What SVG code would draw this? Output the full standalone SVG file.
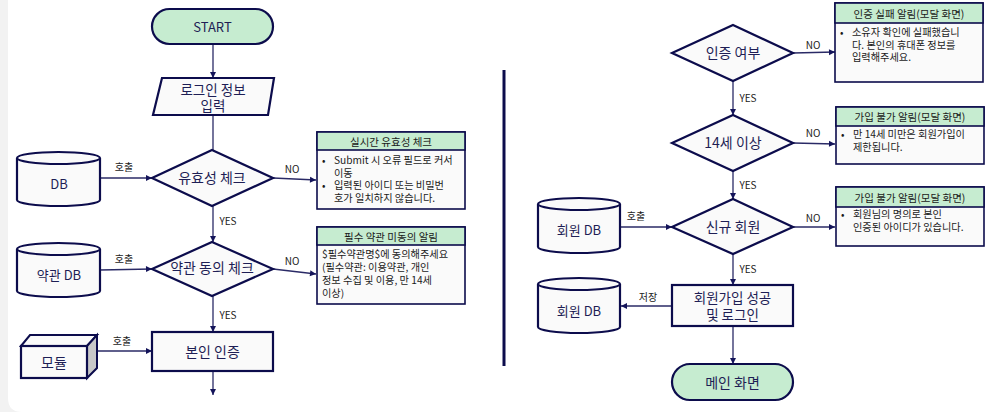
<svg xmlns="http://www.w3.org/2000/svg" width="1004" height="412" viewBox="0 0 1004 412">
<defs>
<marker id="arr" markerWidth="8" markerHeight="8" refX="7" refY="4" orient="auto" markerUnits="userSpaceOnUse">
<path d="M1,1 L7,4 L1,7 Z" fill="#14145a"/>
</marker>
<style>
.sh{stroke:#0c0c4c;stroke-width:2.2;fill:#fafafa}
.term{stroke:#0c0c4c;stroke-width:2.2;fill:#c6ecd0}
.conn{stroke:#2a2a66;stroke-width:1.3;fill:none;marker-end:url(#arr)}
.line{stroke:#2a2a66;stroke-width:1.3;fill:none}
.lbl{font-family:"Noto Sans CJK KR","Noto Sans",sans-serif;fill:#1e1e55;text-anchor:middle;dominant-baseline:central}
.big{font-size:14px}
.two{font-size:13.5px}
.mid{font-size:13px}
.cl{font-family:"Noto Sans CJK KR","Noto Sans",sans-serif;font-size:10px;fill:#222;text-anchor:middle;dominant-baseline:central}
.box{stroke:#0c0c4c;stroke-width:1.6;fill:#fafafa}
.hdr{stroke:#0c0c4c;stroke-width:1.6;fill:#c6ecd0}
.bt{font-family:"Noto Sans CJK KR","Noto Sans",sans-serif;font-size:10.2px;fill:#1a1a1a}
.ht{font-family:"Noto Sans CJK KR","Noto Sans",sans-serif;font-size:10.5px;fill:#1a1a1a;text-anchor:middle;dominant-baseline:central}
.cyl{stroke:#0c0c4c;stroke-width:2.2;fill:#fafafa}
</style>
</defs>
<rect x="0" y="0" width="1004" height="412" fill="#f2f2f2"/>
<path d="M8,0 H1004 V412 H22 Q8,412 8,398 Z" fill="#ffffff"/>

<g id="connectors">
<line class="conn" x1="213" y1="44" x2="213" y2="78"/>
<line class="line" x1="213" y1="115" x2="213" y2="150"/>
<line class="conn" x1="100" y1="178" x2="152" y2="178"/>
<line class="conn" x1="273" y1="178" x2="316" y2="180"/>
<line class="conn" x1="213" y1="206" x2="213" y2="242"/>
<line class="conn" x1="100" y1="270" x2="152" y2="269"/>
<line class="conn" x1="273" y1="269" x2="316" y2="274"/>
<line class="conn" x1="213" y1="296" x2="213" y2="332"/>
<line class="conn" x1="97" y1="351" x2="152" y2="351"/>
<line class="conn" x1="213" y1="371" x2="213" y2="395"/>
<line class="conn" x1="793" y1="53" x2="835" y2="52"/>
<line class="conn" x1="733" y1="81" x2="733" y2="115"/>
<line class="conn" x1="793" y1="143" x2="835" y2="144"/>
<line class="conn" x1="733" y1="171" x2="733" y2="199"/>
<line class="conn" x1="620" y1="227" x2="672" y2="227"/>
<line class="conn" x1="793" y1="227" x2="835" y2="227"/>
<line class="conn" x1="733" y1="254" x2="733" y2="285"/>
<line class="conn" x1="672" y1="306" x2="621" y2="306"/>
<line class="conn" x1="733" y1="326" x2="733" y2="364"/>
<text class="cl" x="124" y="166">호출</text>
<text class="cl" x="292" y="168">NO</text>
<text class="cl" x="228" y="220">YES</text>
<text class="cl" x="124" y="258">호출</text>
<text class="cl" x="292" y="260">NO</text>
<text class="cl" x="228" y="314">YES</text>
<text class="cl" x="122" y="340">호출</text>
<text class="cl" x="813" y="44">NO</text>
<text class="cl" x="748" y="97">YES</text>
<text class="cl" x="813" y="132">NO</text>
<text class="cl" x="748" y="184">YES</text>
<text class="cl" x="636" y="215">호출</text>
<text class="cl" x="813" y="217">NO</text>
<text class="cl" x="748" y="268">YES</text>
<text class="cl" x="648" y="296">저장</text>
</g>

<g id="divider"><line x1="504" y1="70" x2="504" y2="366" stroke="#0c0c4c" stroke-width="3"/></g>

<g id="start">
<rect class="term" x="152" y="9" width="121" height="35" rx="17.5"/>
<text class="lbl mid" x="212.5" y="26.5">START</text>
</g>

<g id="login-input">
<polygon class="sh" points="162,78 274,78 268,115 153,115"/>
<text class="lbl two" x="213" y="88.5">로그인 정보</text>
<text class="lbl two" x="213" y="104.5">입력</text>
</g>

<g id="validity-check">
<polygon class="sh" points="212,150 273,178 212,206 152,178"/>
<text class="lbl big" x="212" y="177">유효성 체크</text>
</g>

<g id="db">
<path class="cyl" d="M17,158 A41.5,6 0 0 1 100,158 V200 A41.5,6 0 0 1 17,200 Z"/>
<path class="cyl" d="M17,158 A41.5,6 0 0 0 100,158" fill="none"/>
<text class="lbl mid" x="59" y="183">DB</text>
</g>

<g id="realtime-box">
<rect class="box" x="317" y="132" width="148" height="77"/>
<rect class="hdr" x="317" y="132" width="148" height="18"/>
<text class="ht" x="391" y="141">실시간 유효성 체크</text>
<text class="bt" x="322" y="164">•</text>
<text class="bt" x="334" y="164">Submit 시 오류 필드로 커서</text>
<text class="bt" x="334" y="176.5">이동</text>
<text class="bt" x="322" y="189">•</text>
<text class="bt" x="334" y="189">입력된 아이디 또는 비밀번</text>
<text class="bt" x="334" y="201.5">호가 일치하지 않습니다.</text>
</g>

<g id="terms-check">
<polygon class="sh" points="212,242 273,269 212,296 152,269"/>
<text class="lbl big" x="212" y="267">약관 동의 체크</text>
</g>

<g id="terms-db">
<path class="cyl" d="M17,249 A41.5,6 0 0 1 100,249 V291 A41.5,6 0 0 1 17,291 Z"/>
<path class="cyl" d="M17,249 A41.5,6 0 0 0 100,249" fill="none"/>
<text class="lbl mid" x="59" y="274">약관 DB</text>
</g>

<g id="terms-box">
<rect class="box" x="317" y="227" width="148" height="77"/>
<rect class="hdr" x="317" y="227" width="148" height="18"/>
<text class="ht" x="391" y="236">필수 약관 미동의 알림</text>
<text class="bt" x="322" y="258">$필수약관명$에 동의해주세요</text>
<text class="bt" x="322" y="271">(필수약관: 이용약관, 개인</text>
<text class="bt" x="322" y="284">정보 수집 및 이용, 만 14세</text>
<text class="bt" x="322" y="297">이상)</text>
</g>

<g id="identity-verify">
<rect class="sh" x="152" y="332" width="121" height="39"/>
<text class="lbl big" x="212.5" y="351">본인 인증</text>
</g>

<g id="module">
<polygon points="21,346 30,335 97,335 87,346" fill="#fafafa" stroke="#0c0c4c" stroke-width="2"/>
<polygon points="87,346 97,335 97,368 87,378" fill="#c8c8c8" stroke="#0c0c4c" stroke-width="2"/>
<rect x="21" y="346" width="66" height="32" fill="#fafafa" stroke="#0c0c4c" stroke-width="2.2"/>
<text class="lbl big" x="54" y="362">모듈</text>
</g>

<g id="auth-result">
<polygon class="sh" points="733,25 793,53 733,81 672,53"/>
<text class="lbl big" x="733" y="52">인증 여부</text>
</g>

<g id="auth-fail-box">
<rect class="box" x="835" y="3" width="148" height="79"/>
<rect class="hdr" x="835" y="3" width="148" height="20"/>
<text class="ht" x="909" y="13">인증 실패 알림(모달 화면)</text>
<text class="bt" x="840" y="36">•</text>
<text class="bt" x="852" y="36">소유자 확인에 실패했습니</text>
<text class="bt" x="852" y="48.5">다. 본인의 휴대폰 정보를</text>
<text class="bt" x="852" y="61">입력해주세요.</text>
</g>

<g id="age-check">
<polygon class="sh" points="733,115 793,143 733,171 672,143"/>
<text class="lbl big" x="733" y="142">14세 이상</text>
</g>

<g id="age-box">
<rect class="box" x="836" y="107" width="148" height="57"/>
<rect class="hdr" x="836" y="107" width="148" height="19"/>
<text class="ht" x="910" y="116.5">가입 불가 알림(모달 화면)</text>
<text class="bt" x="841" y="138">•</text>
<text class="bt" x="853" y="138">만 14세 미만은 회원가입이</text>
<text class="bt" x="853" y="150.5">제한됩니다.</text>
</g>

<g id="new-member">
<polygon class="sh" points="733,199 793,227 733,254 672,227"/>
<text class="lbl big" x="733" y="226">신규 회원</text>
</g>

<g id="member-db-1">
<path class="cyl" d="M538,204 A41,6 0 0 1 620,204 V247 A41,6 0 0 1 538,247 Z"/>
<path class="cyl" d="M538,204 A41,6 0 0 0 620,204" fill="none"/>
<text class="lbl mid" x="579" y="229">회원 DB</text>
</g>

<g id="dup-box">
<rect class="box" x="836" y="187" width="148" height="59"/>
<rect class="hdr" x="836" y="187" width="148" height="20"/>
<text class="ht" x="910" y="197">가입 불가 알림(모달 화면)</text>
<text class="bt" x="841" y="218">•</text>
<text class="bt" x="853" y="218">회원님의 명의로 본인</text>
<text class="bt" x="853" y="231">인증된 아이디가 있습니다.</text>
</g>

<g id="signup-success">
<rect class="sh" x="672" y="285" width="121" height="41"/>
<text class="lbl two" x="732.5" y="297">회원가입 성공</text>
<text class="lbl two" x="732.5" y="314">및 로그인</text>
</g>

<g id="member-db-2">
<path class="cyl" d="M538,284 A41,6 0 0 1 620,284 V327 A41,6 0 0 1 538,327 Z"/>
<path class="cyl" d="M538,284 A41,6 0 0 0 620,284" fill="none"/>
<text class="lbl mid" x="579" y="310">회원 DB</text>
</g>

<g id="main-screen">
<rect class="term" x="672" y="364" width="121" height="36" rx="18"/>
<text class="lbl big" x="732.5" y="382">메인 화면</text>
</g>
</svg>
